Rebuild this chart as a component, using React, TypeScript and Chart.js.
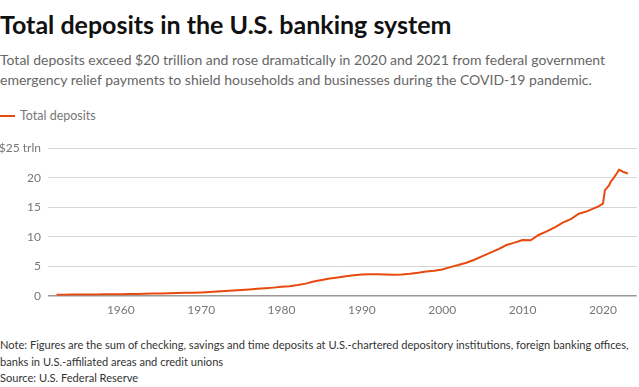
import React, { useEffect, useRef } from "react";
import { Chart, registerables } from "chart.js";

Chart.register(...registerables);

const years: number[] = [
  1952, 1953, 1954, 1955, 1956, 1957, 1958, 1959, 1960, 1961, 1962, 1963, 1964, 1965, 1966, 1967, 1968, 1969,
  1970, 1971, 1972, 1973, 1974, 1975, 1976, 1977, 1978, 1979, 1980, 1981, 1982, 1983, 1984, 1985, 1986, 1987,
  1988, 1989, 1990, 1991, 1992, 1993, 1994, 1995, 1996, 1997, 1998, 1999, 2000, 2001, 2002, 2003, 2004, 2005,
  2006, 2007, 2008, 2009, 2010, 2011, 2012, 2013, 2014, 2015, 2016, 2017, 2018, 2019, 2019.5, 2020, 2020.25,
  2020.5, 2020.75, 2021, 2021.25, 2021.5, 2021.75, 2022, 2022.25, 2022.5, 2022.75, 2023.1,
];

const totalDeposits: number[] = [
  0.17, 0.18, 0.19, 0.2, 0.21, 0.21, 0.23, 0.24, 0.25, 0.27, 0.3, 0.33, 0.36, 0.39, 0.41, 0.45, 0.49, 0.5,
  0.55, 0.63, 0.72, 0.8, 0.87, 0.95, 1.05, 1.16, 1.27, 1.37, 1.5, 1.62, 1.8, 2.05, 2.4, 2.65, 2.92, 3.1,
  3.28, 3.45, 3.6, 3.65, 3.63, 3.58, 3.56, 3.6, 3.72, 3.88, 4.1, 4.25, 4.45, 4.85, 5.2, 5.6, 6.1, 6.7,
  7.3, 7.9, 8.6, 9.0, 9.45, 9.4, 10.3, 10.9, 11.6, 12.4, 13.0, 13.9, 14.3, 14.9, 15.2, 15.6, 17.9,
  18.3, 18.7, 19.4, 19.8, 20.3, 20.8, 21.35, 21.2, 21.0, 20.9, 20.7,
];

const xTickLabels: number[] = [1960, 1970, 1980, 1990, 2000, 2010, 2020];
const yTickLabels: number[] = [0, 5, 10, 15, 20, 25];

const FONT = "Lato";

export default function App() {
  const canvasRef = useRef<HTMLCanvasElement | null>(null);

  useEffect(() => {
    document.body.style.margin = "0";
    const canvas = canvasRef.current;
    if (!canvas) return;
    const chart = new Chart(canvas, {
      type: "line",
      data: {
        datasets: [
          {
            label: "Total deposits",
            data: years.map((x, i) => ({ x, y: totalDeposits[i] })),
            borderColor: "#e8490f",
            borderWidth: 2,
            pointRadius: 0,
            tension: 0,
            fill: false,
          },
        ],
      },
      options: {
        animation: false,
        responsive: false,
        maintainAspectRatio: false,
        layout: { padding: { top: 18.3, right: 2.3, left: 0, bottom: 0 } },
        plugins: { legend: { display: false }, tooltip: { enabled: false } },
        scales: {
          x: {
            type: "linear",
            min: 1950.9,
            max: 2024.2,
            afterBuildTicks: (s: any) => {
              s.ticks = xTickLabels.map((v) => ({ value: v }));
            },
            afterFit: (s: any) => {
              s.height = 24.3;
            },
            ticks: {
              callback: (v: any) => String(v),
              font: { family: FONT, size: 12 },
              color: "#777",
              padding: 7.5,
              maxRotation: 0,
              autoSkip: false,
            },
            grid: { display: false, drawTicks: false },
            border: { display: false },
          },
          y: {
            min: 0,
            max: 25,
            afterBuildTicks: (s: any) => {
              s.ticks = yTickLabels.map((v) => ({ value: v }));
            },
            afterFit: (s: any) => {
              s.width = 47.7;
            },
            ticks: {
              callback: (v: any) => (v === 25 ? "$25 trln" : String(v)),
              font: { family: FONT, size: 12 },
              color: "#777",
              padding: 6.7,
            },
            grid: {
              drawTicks: false,
              color: (ctx: any) => (ctx.tick && ctx.tick.value === 0 ? "#9a9a9a" : "#d6d6d6"),
              lineWidth: (ctx: any) => (ctx.tick && ctx.tick.value === 0 ? 1.5 : 1),
            },
            border: { display: false },
          },
        },
      },
    });
    return () => chart.destroy();
  }, []);

  return (
    <div
      style={{
        position: "absolute",
        left: 0,
        top: 0,
        width: 639,
        height: 387,
        background: "#fff",
        fontFamily: FONT,
        overflow: "hidden",
      }}
    >
      <div
        style={{
          position: "absolute",
          left: 0,
          top: 10,
          fontSize: 25,
          lineHeight: "28px",
          fontWeight: 700,
          color: "#111",
          whiteSpace: "nowrap",
        }}
      >
        Total deposits in the U.S. banking system
      </div>
      <div
        style={{
          position: "absolute",
          left: 0,
          top: 50,
          fontSize: 14,
          lineHeight: "19.5px",
          color: "#666",
          whiteSpace: "nowrap",
        }}
      >
        Total deposits exceed $20 trillion and rose dramatically in 2020 and 2021 from federal government
        <br />
        emergency relief payments to shield households and businesses during the COVID-19 pandemic.
      </div>
      <div style={{ position: "absolute", left: 0, top: 115, width: 15, height: 2, background: "#e8490f" }} />
      <div
        style={{
          position: "absolute",
          left: 20,
          top: 108,
          fontSize: 12.5,
          lineHeight: "16px",
          color: "#777",
          whiteSpace: "nowrap",
        }}
      >
        Total deposits
      </div>
      <canvas
        ref={canvasRef}
        width={639}
        height={190}
        style={{ position: "absolute", left: 0, top: 130, width: 639, height: 190 }}
      />
      <div
        style={{
          position: "absolute",
          left: 0,
          top: 337,
          fontSize: 11.1,
          lineHeight: "16.5px",
          color: "#333",
          whiteSpace: "nowrap",
        }}
      >
        Note: Figures are the sum of checking, savings and time deposits at U.S.-chartered depository institutions,
        foreign banking offices,
        <br />
        banks in U.S.-affiliated areas and credit unions
        <br />
        Source: U.S. Federal Reserve
      </div>
    </div>
  );
}
